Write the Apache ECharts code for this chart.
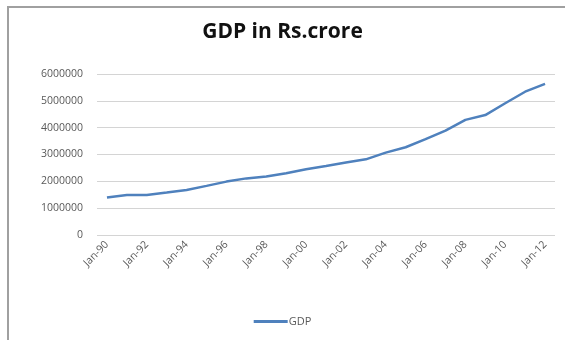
<!DOCTYPE html>
<html>
<head>
<meta charset="utf-8">
<script src="https://cdn.jsdelivr.net/npm/echarts@6/dist/echarts.min.js"></script>
<style>html,body{margin:0;padding:0;background:#fff;}#c{width:565px;height:340px;}</style>
</head>
<body>
<div id="c"></div>
<script>
const categories = ['Jan-90','Jan-91','Jan-92','Jan-93','Jan-94','Jan-95','Jan-96','Jan-97','Jan-98','Jan-99','Jan-00','Jan-01','Jan-02','Jan-03','Jan-04','Jan-05','Jan-06','Jan-07','Jan-08','Jan-09','Jan-10','Jan-11','Jan-12'];
const gdp = [1400000,1490000,1490000,1580000,1680000,1830000,1990000,2110000,2180000,2300000,2450000,2570000,2700000,2820000,3070000,3270000,3570000,3890000,4290000,4470000,4910000,5340000,5630000];
const yTicks = [0,1000000,2000000,3000000,4000000,5000000,6000000];

const chart = echarts.init(document.getElementById('c'));
chart.setOption({
  animation: false,
  backgroundColor: '#fff',
  graphic: [{
    type: 'rect', shape: {x: 8, y: 7, width: 620, height: 400},
    style: {fill: 'none', stroke: '#a0a0a0', lineWidth: 2}, silent: true
  }],
  title: {
    text: 'GDP in Rs.crore', left: 'center', top: 17,
    textStyle: {fontFamily: 'Open Sans', fontSize: 21, fontWeight: 'bold', color: '#111'}
  },
  legend: {
    bottom: 8, left: 'center', itemWidth: 34, itemHeight: 3, itemGap: 2,
    icon: 'rect',
    textStyle: {fontFamily: 'Open Sans', fontSize: 11, color: '#595959', padding: [0,0,0,-4]},
    data: ['GDP']
  },
  grid: {left: 97, right: 10, top: 74, bottom: 105},
  xAxis: {
    type: 'category', data: categories, boundaryGap: true,
    axisLine: {show: false}, axisTick: {show: false},
    axisLabel: {interval: 1, rotate: 45, fontFamily: 'Open Sans', fontSize: 10.5, color: '#595959', margin: 8}
  },
  yAxis: {
    type: 'value', min: yTicks[0], max: yTicks[yTicks.length-1], interval: 1000000,
    axisLine: {show: false}, axisTick: {show: false},
    axisLabel: {fontFamily: 'Open Sans', fontSize: 10.5, color: '#595959', margin: 14, formatter: v => String(v)},
    splitLine: {lineStyle: {color: '#d4d4d4', width: 1}}
  },
  series: [{
    name: 'GDP', type: 'line', data: gdp, symbol: 'none',
    lineStyle: {color: '#4f81bd', width: 2.5}, itemStyle: {color: '#4f81bd'}
  }]
});
</script>
</body>
</html>
